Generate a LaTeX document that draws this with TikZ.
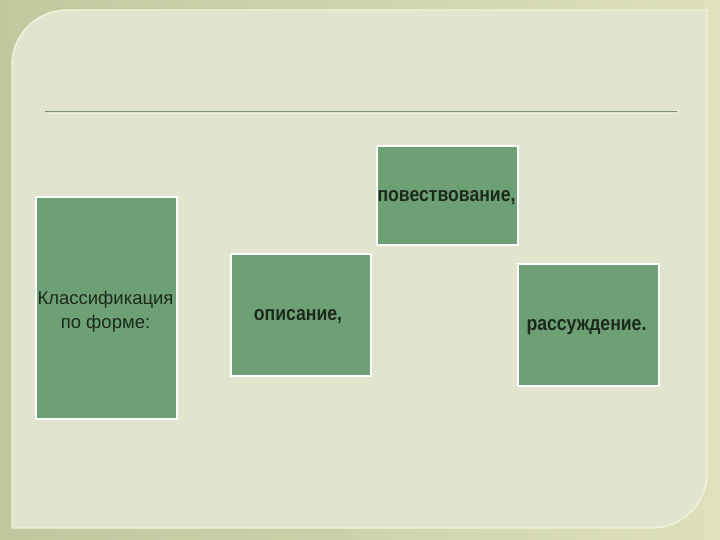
\documentclass[tikz,border=0pt]{standalone}
\usepackage{fontspec}
\setmainfont{Liberation Sans}
\newfontfamily\condbold[FakeStretch=0.86]{Liberation Sans}
\definecolor{bgdark}{HTML}{C2C89E}
\definecolor{bglight}{HTML}{DEE1BC}
\definecolor{panel}{HTML}{E2E4CD}
\definecolor{panelrim}{HTML}{F0F2DC}
\definecolor{boxfill}{HTML}{6EA076}
\definecolor{txt}{HTML}{1C2A1C}
\definecolor{rule}{HTML}{7A9070}
\tikzset{
  greenbox/.style={draw=white, line width=1.6pt, fill=boxfill, text=txt, anchor=north west, inner sep=0pt, align=center},
  boldlabel/.style={font=\condbold\bfseries\fontsize{20.5}{24}\selectfont},
}
\begin{document}
\begin{tikzpicture}[x=1pt,y=-1pt]
\useasboundingbox (0,0) rectangle (720,540);
\shade[left color=bgdark, right color=bglight] (0,0) rectangle (720,540);
\fill[bgdark, opacity=0.25] (0,540) -- (0,300) -- (360,540) -- cycle;
% panel
\draw[fill=panel, draw=panelrim, line width=1.4pt]
  (12,528) -- (12,65) .. controls (12,34.6) and (36.6,10) .. (67,10)
  -- (707,10) -- (707,473) .. controls (707,503.4) and (682.6,528) .. (652,528) -- cycle;
% rule
\coordinate (rl) at (45,112);
\coordinate (rr) at (677,112);
\draw[rule, line width=1pt] (rl) -- (rr);
\draw[white, opacity=0.5, line width=1pt] ([yshift=-1.5pt]rl) -- ([yshift=-1.5pt]rr);
% boxes
\node[greenbox, minimum width=141pt, minimum height=222pt] (cls) at (35,196) {};
\node[text=txt, font=\fontsize{18.5}{24}\selectfont, align=center] (clst) at (105.5,312) {Классификация\\по форме:};
\node[greenbox, minimum width=141pt, minimum height=99pt] (pov) at (376,145) {};
\node[text=txt, boldlabel] (povt) at (446.5,197.5) {повествование,};
\node[greenbox, minimum width=140pt, minimum height=122pt] (opi) at (230,253) {};
\node[text=txt, boldlabel] (opit) at (298,316.5) {описание,};
\node[greenbox, minimum width=141pt, minimum height=122pt] (ras) at (517,263) {};
\node[text=txt, boldlabel] (rast) at (586.5,327.5) {рассуждение.};
\end{tikzpicture}
\end{document}
